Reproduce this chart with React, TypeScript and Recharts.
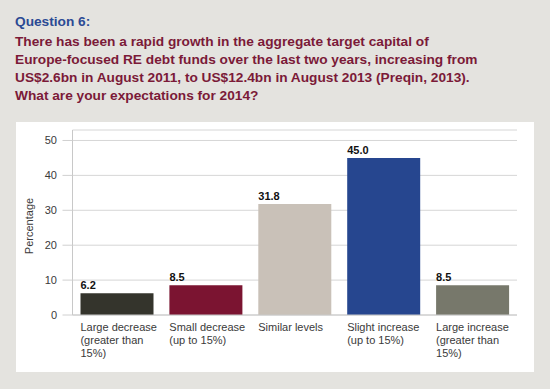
import React from 'react';
import { BarChart, Bar, XAxis, YAxis, CartesianGrid, LabelList, Cell } from 'recharts';

const categories = [
  'Large decrease\n(greater than\n15%)',
  'Small decrease\n(up to 15%)',
  'Similar levels',
  'Slight increase\n(up to 15%)',
  'Large increase\n(greater than\n15%)',
];
const values = [6.2, 8.5, 31.8, 45.0, 8.5];
const barColors = ['#34342c', '#7b1431', '#c9c1b8', '#26468f', '#77786b'];
const yTicks = [0, 10, 20, 30, 40, 50];
const questionLabel = 'Question 6:';
const questionLines = [
  'There has been a rapid growth in the aggregate target capital of',
  'Europe-focused RE debt funds over the last two years, increasing from',
  'US$2.6bn in August 2011, to US$12.4bn in August 2013 (Preqin, 2013).',
  'What are your expectations for 2014?',
];
const yAxisTitle = 'Percentage';

const data = categories.map((c, i) => ({ name: c, value: values[i] }));

const FONT = '"Liberation Sans", Arial, Helvetica, sans-serif';
const BAR_SIZE = 73;

const XTick = (props: any) => {
  const { x, y, payload } = props;
  const lines = String(payload.value).split('\n');
  return (
    <text x={x - BAR_SIZE / 2} y={y} fill="#3a3a3a" fontSize={11} fontFamily={FONT} textAnchor="start">
      {lines.map((l: string, i: number) => (
        <tspan key={i} x={x - BAR_SIZE / 2} dy={i === 0 ? 8 : 13}>
          {l}
        </tspan>
      ))}
    </text>
  );
};

const ValueLabel = (props: any) => {
  const { x, y, value } = props;
  return (
    <text x={x} y={y - 4} fill="#111" fontSize={11} fontWeight="bold" fontFamily={FONT} textAnchor="start">
      {Number(value).toFixed(1)}
    </text>
  );
};

const YTitle = (props: any) => {
  const { viewBox } = props;
  const cx = viewBox.x + 29;
  const cy = viewBox.y + viewBox.height / 2 + 3.5;
  return (
    <text
      x={cx}
      y={cy}
      dy="0.355em"
      transform={`rotate(-90 ${cx} ${cy})`}
      textAnchor="middle"
      fill="#3a3a3a"
      fontSize={11}
      fontFamily={FONT}
    >
      {yAxisTitle}
    </text>
  );
};

export default function App() {
  return (
    <div
      style={{
        position: 'absolute',
        left: 0,
        top: 0,
        width: 550,
        height: 389,
        background: '#e4e3df',
        fontFamily: FONT,
        overflow: 'hidden',
      }}
    >
      <div
        style={{
          position: 'absolute',
          left: 16,
          top: 122,
          width: 518,
          height: 250,
          background: '#ffffff',
        }}
      />
      <div
        style={{
          position: 'absolute',
          left: 15,
          top: 13,
          fontSize: 13.7,
          lineHeight: '18px',
          fontWeight: 'bold',
          color: '#2b4a94',
          whiteSpace: 'nowrap',
        }}
      >
        {questionLabel}
      </div>
      <div
        style={{
          position: 'absolute',
          left: 15,
          top: 33,
          fontSize: 13.7,
          lineHeight: '18px',
          fontWeight: 'bold',
          color: '#7b1a38',
          whiteSpace: 'nowrap',
        }}
      >
        {questionLines.map((l, i) => (
          <div key={i}>{l}</div>
        ))}
      </div>
      <div style={{ position: 'absolute', left: 0, top: 0 }}>
        <BarChart
          width={550}
          height={389}
          data={data}
          margin={{ top: 130, right: 33, bottom: 0, left: 0 }}
        >
          <CartesianGrid vertical={false} stroke="#d6d6d6" />
          <XAxis
            dataKey="name"
            tickLine={false}
            axisLine={{ stroke: '#c8c8c8' }}
            tick={<XTick />}
            interval={0}
            height={74}
          />
          <YAxis
            width={72.5}
            domain={[0, 53]}
            ticks={yTicks}
            tickSize={10}
            tickMargin={5.5}
            tickLine={{ stroke: '#d0d0d0' }}
            axisLine={{ stroke: '#c8c8c8' }}
            tick={{ fill: '#3a3a3a', fontSize: 11, fontFamily: FONT }}
            label={<YTitle />}
          />
          <Bar dataKey="value" barSize={BAR_SIZE} isAnimationActive={false}>
            {data.map((_, i) => (
              <Cell key={i} fill={barColors[i]} />
            ))}
            <LabelList dataKey="value" content={<ValueLabel />} />
          </Bar>
        </BarChart>
      </div>
    </div>
  );
}
